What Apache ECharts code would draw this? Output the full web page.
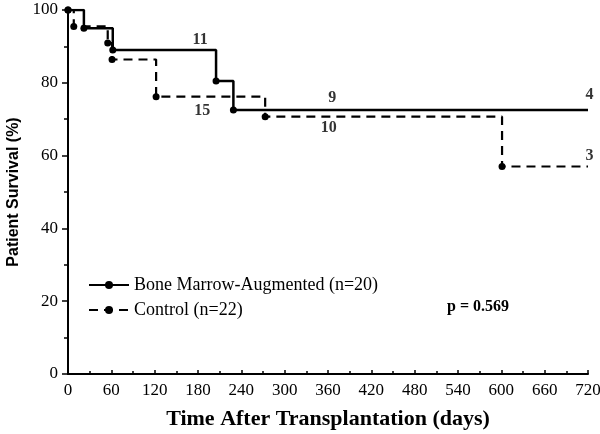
<!DOCTYPE html>
<html>
<head>
<meta charset="utf-8">
<script src="https://cdn.jsdelivr.net/npm/echarts@6/dist/echarts.min.js"></script>
<style>html,body{margin:0;padding:0;background:#fff}#c{width:600px;height:434px}</style>
</head>
<body>
<div id="c"></div>
<script>
// Data
var bmDays = [0, 22, 62, 205, 229, 720];
var bmSurv = [100, 95, 89, 80.5, 72.5, 72.5];
var ctDays = [0, 8, 55, 61, 122, 273, 601, 720];
var ctSurv = [100, 95.5, 90.9, 86.4, 76.2, 70.7, 57, 57];
var riskDays = [183, 186, 366, 361, 722, 722];
var riskVals = [91.8, 72.3, 75.8, 67.6, 76.6, 60];
var riskText = ['11', '15', '9', '10', '4', '3'];
var xTicks = [0, 60, 120, 180, 240, 300, 360, 420, 480, 540, 600, 660, 720];
var yTicks = [0, 20, 40, 60, 80, 100];
var seriesNames = ['Bone Marrow-Augmented (n=20)', 'Control (n=22)'];
var pText = 'p = 0.569';

var FONT = '"Liberation Serif", "Times New Roman", serif';
var SANS = '"Liberation Sans", Arial, sans-serif';
function pairs(xs, ys) {
  return xs.map(function (x, i) {
    var p = { value: [x, ys[i]] };
    if (i === xs.length - 1) p.symbol = 'none';
    return p;
  });
}
var chart = echarts.init(document.getElementById('c'), null, { renderer: 'canvas' });
chart.setOption({
  animation: false,
  backgroundColor: '#fff',
  grid: { left: 68, right: 12, top: 10, bottom: 60, containLabel: false, outerBoundsMode: 'none' },
  xAxis: {
    type: 'value', min: 0, max: 720, interval: 60,
    name: 'Time After Transplantation (days)', nameLocation: 'middle', nameGap: 34,
    nameTextStyle: { fontFamily: FONT, fontWeight: 'bold', fontSize: 22, color: '#000' },
    axisLine: { lineStyle: { color: '#000', width: 2 } },
    axisTick: { inside: true, length: 4, lineStyle: { color: '#000', width: 1.5 } },
    minorTick: { show: true, splitNumber: 2, length: 3, lineStyle: { color: '#000', width: 1.5 } },
    axisLabel: { fontFamily: FONT, fontSize: 17, color: '#000', margin: 8, hideOverlap: false,
      formatter: function (v) { return xTicks.indexOf(v) >= 0 ? String(v) : ''; } },
    splitLine: { show: false }
  },
  yAxis: {
    type: 'value', min: 0, max: 100, interval: 20,
    name: 'Patient Survival (%)', nameLocation: 'middle', nameGap: 46,
    nameTextStyle: { fontFamily: SANS, fontWeight: 'bold', fontSize: 16, color: '#000' },
    axisLine: { show: true, lineStyle: { color: '#000', width: 2 } },
    axisTick: { show: true, length: 6, lineStyle: { color: '#000', width: 1.5 } },
    minorTick: { show: true, splitNumber: 2, length: 4, lineStyle: { color: '#000', width: 1.5 } },
    axisLabel: { fontFamily: FONT, fontSize: 17, color: '#000', margin: 10,
      formatter: function (v) { return yTicks.indexOf(v) >= 0 ? String(v) : ''; } },
    splitLine: { show: false }
  },
  legend: {
    orient: 'vertical', left: 83, top: 271, itemWidth: 40, itemHeight: 10, itemGap: 7,
    textStyle: { fontFamily: FONT, fontSize: 18, color: '#000' },
    data: seriesNames
  },
  series: [
    {
      name: seriesNames[0], type: 'line', step: 'end',
      data: pairs(bmDays, bmSurv),
      symbol: 'circle', symbolSize: 7,
      lineStyle: { color: '#000', width: 2.5 },
      itemStyle: { color: '#000' }, z: 3
    },
    {
      name: seriesNames[1], type: 'line', step: 'end',
      data: pairs(ctDays, ctSurv),
      symbol: 'circle', symbolSize: 7,
      lineStyle: { color: '#000', width: 2.2, type: [9, 6] },
      itemStyle: { color: '#000' }, z: 2
    },
    {
      name: 'risk', type: 'scatter', symbolSize: 0, silent: true, clip: false,
      data: riskDays.map(function (d, i) { return { value: [d, riskVals[i]], name: riskText[i] }; }),
      label: { show: true, position: 'inside', formatter: '{b}', fontFamily: FONT, fontWeight: 'bold', fontSize: 16, color: '#000' }
    }
  ],
  graphic: [{
    type: 'text', left: 447, top: 299,
    style: { text: pText, font: 'bold 16px ' + FONT, fill: '#000' }
  }]
});
</script>
</body>
</html>
